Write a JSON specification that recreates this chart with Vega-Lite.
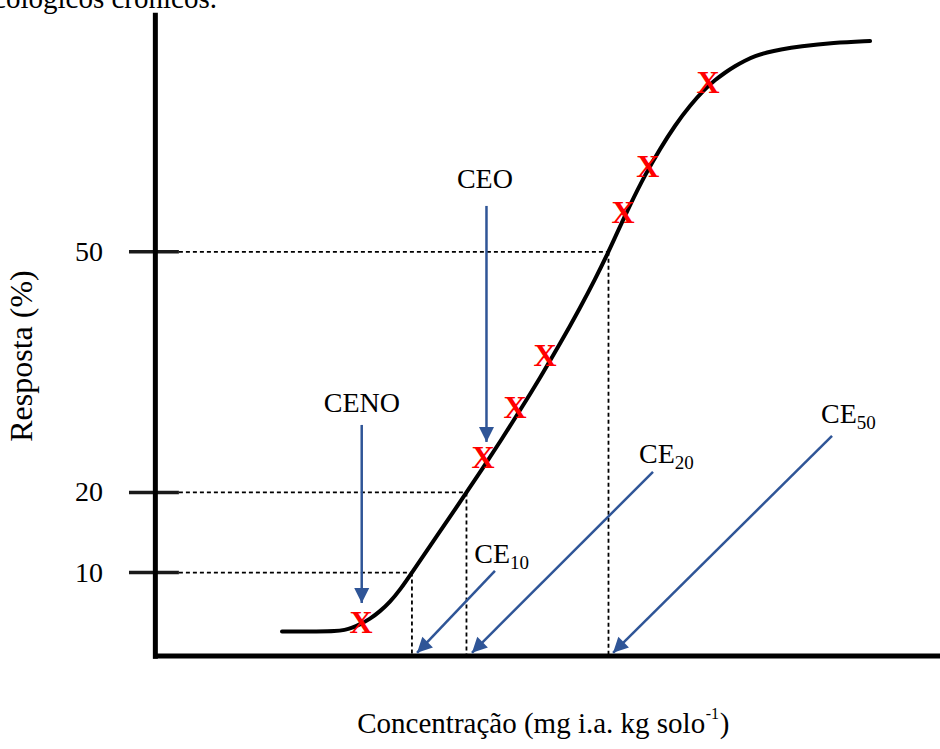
{
  "$schema": "https://vega.github.io/schema/vega-lite/v6.json",
  "width": 940,
  "height": 749,
  "autosize": {"type": "none"},
  "padding": 0,
  "background": "white",
  "config": {"view": {"stroke": null}, "text": {"font": "Liberation Serif", "color": "black"}},
  "datasets": {
    "curve": [
      {"c": 16.14, "r": 2.66}, {"c": 20.98, "r": 2.66}, {"c": 22.89, "r": 2.68}, {"c": 24.17, "r": 2.84},
      {"c": 25.06, "r": 3.09}, {"c": 26.07, "r": 3.53}, {"c": 27.35, "r": 4.21}, {"c": 28.62, "r": 5.15},
      {"c": 29.9, "r": 6.33}, {"c": 31.17, "r": 7.83}, {"c": 32.7, "r": 10.0}, {"c": 35.0, "r": 13.32},
      {"c": 37.55, "r": 16.93}, {"c": 39.65, "r": 20.0}, {"c": 41.76, "r": 23.05}, {"c": 43.92, "r": 26.29},
      {"c": 46.47, "r": 30.22}, {"c": 49.02, "r": 34.27}, {"c": 51.57, "r": 38.51}, {"c": 54.12, "r": 43.0},
      {"c": 56.03, "r": 46.55}, {"c": 57.75, "r": 50.0}, {"c": 58.58, "r": 51.79}, {"c": 60.49, "r": 55.84},
      {"c": 62.4, "r": 59.58}, {"c": 64.31, "r": 62.83}, {"c": 66.22, "r": 65.76}, {"c": 68.13, "r": 68.25},
      {"c": 70.05, "r": 70.31}, {"c": 71.32, "r": 71.41}, {"c": 72.6, "r": 72.35}, {"c": 73.87, "r": 73.16},
      {"c": 75.15, "r": 73.85}, {"c": 76.42, "r": 74.42}, {"c": 77.95, "r": 74.87}, {"c": 79.61, "r": 75.23},
      {"c": 82.16, "r": 75.63}, {"c": 86.37, "r": 76.07}, {"c": 91.09, "r": 76.29}
    ],
    "obs": [
      {"c": 26.2, "r": 3.72}, {"c": 41.76, "r": 24.29}, {"c": 45.84, "r": 30.53}, {"c": 49.66, "r": 37.01},
      {"c": 59.6, "r": 54.85}, {"c": 62.75, "r": 60.58}, {"c": 70.43, "r": 71.06}
    ],
    "ticks": [
      {"resp": 10, "at": -6.67}, {"resp": 20, "at": -6.67}, {"resp": 50, "at": -6.67}
    ],
    "frame": [
      {"kind": "axis", "x1": 0, "y1": -0.75, "x2": 0, "y2": 79.8},
      {"kind": "axis", "x1": -0.3, "y1": -0.4, "x2": 100, "y2": -0.4},
      {"kind": "tick", "x1": -3.36, "y1": 10, "x2": 3.0, "y2": 10},
      {"kind": "tick", "x1": -3.36, "y1": 20, "x2": 3.0, "y2": 20},
      {"kind": "tick", "x1": -3.36, "y1": 50, "x2": 3.0, "y2": 50},
      {"kind": "guide", "x1": 3.0, "y1": 10, "x2": 32.7, "y2": 10},
      {"kind": "guide", "x1": 32.7, "y1": 10, "x2": 32.7, "y2": -0.4},
      {"kind": "guide", "x1": 3.0, "y1": 20, "x2": 39.65, "y2": 20},
      {"kind": "guide", "x1": 39.65, "y1": 20, "x2": 39.65, "y2": -0.4},
      {"kind": "guide", "x1": 3.0, "y1": 50, "x2": 57.75, "y2": 50},
      {"kind": "guide", "x1": 57.75, "y1": 50, "x2": 57.75, "y2": -0.4}
    ],
    "arrows": [
      {"label": "CENO", "x0": 26.3, "y0": 28.41, "x1": 26.3, "y1": 6.21},
      {"label": "CEO", "x0": 42.2, "y0": 55.72, "x1": 42.2, "y1": 26.29},
      {"label": "CE10", "x0": 43.28, "y0": 10.2, "x1": 33.35, "y1": 0.0},
      {"label": "CE20", "x0": 63.42, "y0": 22.55, "x1": 40.35, "y1": 0.0},
      {"label": "CE50", "x0": 86.24, "y0": 27.04, "x1": 58.33, "y1": 0.0}
    ],
    "plainLabels": [
      {"text": "CENO", "c": 26.33, "r": 30.03},
      {"text": "CEO", "c": 42.0, "r": 57.96}
    ],
    "ceLabels": [
      {"sub": "10", "c": 45.2, "r": 11.2},
      {"sub": "20", "c": 66.2, "r": 23.67},
      {"sub": "50", "c": 89.4, "r": 28.66}
    ],
    "titles": [
      {"text": "Resposta (%)", "c": -15.73, "r": 37.0}
    ],
    "xtitle": [
      {"main": "Concentração (mg i.a. kg solo", "sup": "-1", "close": ")", "c": 70.07, "r": -10.0}
    ],
    "caption": [
      {"text": "ecotoxicológicos crônicos.", "c": 7.85, "r": 80.41}
    ]
  },
  "layer": [
    {
      "data": {"name": "frame"},
      "transform": [{"filter": "datum.kind == 'guide'"}],
      "mark": {"type": "rule", "color": "black", "strokeWidth": 1.8, "strokeDash": [4, 3]},
      "encoding": {
        "x": {"field": "x1", "type": "quantitative", "scale": {"domain": [-19.8, 100], "nice": false, "zero": false}, "axis": null},
        "y": {"field": "y1", "type": "quantitative", "scale": {"domain": [-12, 81.4], "nice": false, "zero": false}, "axis": null},
        "x2": {"field": "x2"},
        "y2": {"field": "y2"}
      }
    },
    {
      "data": {"name": "frame"},
      "transform": [{"filter": "datum.kind == 'tick'"}],
      "mark": {"type": "rule", "color": "#1a1a1a", "strokeWidth": 3.5},
      "encoding": {
        "x": {"field": "x1", "type": "quantitative", "scale": {"domain": [-19.8, 100], "nice": false, "zero": false}, "axis": null},
        "y": {"field": "y1", "type": "quantitative", "scale": {"domain": [-12, 81.4], "nice": false, "zero": false}, "axis": null},
        "x2": {"field": "x2"},
        "y2": {"field": "y2"}
      }
    },
    {
      "data": {"name": "frame"},
      "transform": [{"filter": "datum.kind == 'axis'"}],
      "mark": {"type": "rule", "color": "black", "strokeWidth": 5},
      "encoding": {
        "x": {"field": "x1", "type": "quantitative", "scale": {"domain": [-19.8, 100], "nice": false, "zero": false}, "axis": null},
        "y": {"field": "y1", "type": "quantitative", "scale": {"domain": [-12, 81.4], "nice": false, "zero": false}, "axis": null},
        "x2": {"field": "x2"},
        "y2": {"field": "y2"}
      }
    },
    {
      "data": {"name": "ticks"},
      "mark": {"type": "text", "fontSize": 28, "align": "right", "baseline": "middle", "dy": 1},
      "encoding": {
        "x": {"field": "at", "type": "quantitative", "scale": {"domain": [-19.8, 100], "nice": false, "zero": false}, "axis": null},
        "y": {"field": "resp", "type": "quantitative", "scale": {"domain": [-12, 81.4], "nice": false, "zero": false}, "axis": null},
        "text": {"field": "resp", "type": "quantitative"}
      }
    },
    {
      "data": {"name": "curve"},
      "mark": {"type": "line", "color": "black", "strokeWidth": 4, "strokeCap": "round", "interpolate": "basis"},
      "encoding": {
        "x": {"field": "c", "type": "quantitative", "scale": {"domain": [-19.8, 100], "nice": false, "zero": false}, "axis": null},
        "y": {"field": "r", "type": "quantitative", "scale": {"domain": [-12, 81.4], "nice": false, "zero": false}, "axis": null}
      }
    },
    {
      "data": {"name": "obs"},
      "mark": {"type": "text", "text": "X", "fontSize": 32, "fontWeight": "bold", "color": "#ff0000", "align": "center", "baseline": "middle"},
      "encoding": {
        "x": {"field": "c", "type": "quantitative", "scale": {"domain": [-19.8, 100], "nice": false, "zero": false}, "axis": null},
        "y": {"field": "r", "type": "quantitative", "scale": {"domain": [-12, 81.4], "nice": false, "zero": false}, "axis": null}
      }
    },
    {
      "data": {"name": "arrows"},
      "mark": {"type": "rule", "color": "#2f5597", "strokeWidth": 2.5},
      "encoding": {
        "x": {"field": "x0", "type": "quantitative", "scale": {"domain": [-19.8, 100], "nice": false, "zero": false}, "axis": null},
        "y": {"field": "y0", "type": "quantitative", "scale": {"domain": [-12, 81.4], "nice": false, "zero": false}, "axis": null},
        "x2": {"field": "x1"},
        "y2": {"field": "y1"}
      }
    },
    {
      "data": {"name": "arrows"},
      "transform": [{"filter": "datum.x0 == datum.x1"}],
      "mark": {"type": "point", "shape": "M0,0L-0.5,1L0.5,1Z", "size": 900, "filled": true, "opacity": 1, "color": "#2f5597", "angle": 180},
      "encoding": {
        "x": {"field": "x1", "type": "quantitative", "scale": {"domain": [-19.8, 100], "nice": false, "zero": false}, "axis": null},
        "y": {"field": "y1", "type": "quantitative", "scale": {"domain": [-12, 81.4], "nice": false, "zero": false}, "axis": null}
      }
    },
    {
      "data": {"name": "arrows"},
      "transform": [{"filter": "datum.x0 != datum.x1"}],
      "mark": {"type": "point", "shape": "M0,0L-0.5,1L0.5,1Z", "size": 900, "filled": true, "opacity": 1, "color": "#2f5597", "angle": 225},
      "encoding": {
        "x": {"field": "x1", "type": "quantitative", "scale": {"domain": [-19.8, 100], "nice": false, "zero": false}, "axis": null},
        "y": {"field": "y1", "type": "quantitative", "scale": {"domain": [-12, 81.4], "nice": false, "zero": false}, "axis": null}
      }
    },
    {
      "data": {"name": "plainLabels"},
      "mark": {"type": "text", "fontSize": 28, "align": "center", "baseline": "alphabetic"},
      "encoding": {
        "x": {"field": "c", "type": "quantitative", "scale": {"domain": [-19.8, 100], "nice": false, "zero": false}, "axis": null},
        "y": {"field": "r", "type": "quantitative", "scale": {"domain": [-12, 81.4], "nice": false, "zero": false}, "axis": null},
        "text": {"field": "text"}
      }
    },
    {
      "data": {"name": "ceLabels"},
      "mark": {"type": "text", "text": "CE", "fontSize": 28, "align": "right", "baseline": "alphabetic"},
      "encoding": {
        "x": {"field": "c", "type": "quantitative", "scale": {"domain": [-19.8, 100], "nice": false, "zero": false}, "axis": null},
        "y": {"field": "r", "type": "quantitative", "scale": {"domain": [-12, 81.4], "nice": false, "zero": false}, "axis": null}
      }
    },
    {
      "data": {"name": "ceLabels"},
      "mark": {"type": "text", "fontSize": 19, "align": "left", "baseline": "alphabetic", "dy": 6},
      "encoding": {
        "x": {"field": "c", "type": "quantitative", "scale": {"domain": [-19.8, 100], "nice": false, "zero": false}, "axis": null},
        "y": {"field": "r", "type": "quantitative", "scale": {"domain": [-12, 81.4], "nice": false, "zero": false}, "axis": null},
        "text": {"field": "sub"}
      }
    },
    {
      "data": {"name": "titles"},
      "mark": {"type": "text", "fontSize": 32, "angle": 270, "align": "center", "baseline": "alphabetic"},
      "encoding": {
        "x": {"field": "c", "type": "quantitative", "scale": {"domain": [-19.8, 100], "nice": false, "zero": false}, "axis": null},
        "y": {"field": "r", "type": "quantitative", "scale": {"domain": [-12, 81.4], "nice": false, "zero": false}, "axis": null},
        "text": {"field": "text"}
      }
    },
    {
      "data": {"name": "xtitle"},
      "mark": {"type": "text", "fontSize": 29, "align": "right", "baseline": "alphabetic"},
      "encoding": {
        "x": {"field": "c", "type": "quantitative", "scale": {"domain": [-19.8, 100], "nice": false, "zero": false}, "axis": null},
        "y": {"field": "r", "type": "quantitative", "scale": {"domain": [-12, 81.4], "nice": false, "zero": false}, "axis": null},
        "text": {"field": "main"}
      }
    },
    {
      "data": {"name": "xtitle"},
      "mark": {"type": "text", "fontSize": 16, "align": "left", "baseline": "alphabetic", "dy": -14, "dx": 0.5},
      "encoding": {
        "x": {"field": "c", "type": "quantitative", "scale": {"domain": [-19.8, 100], "nice": false, "zero": false}, "axis": null},
        "y": {"field": "r", "type": "quantitative", "scale": {"domain": [-12, 81.4], "nice": false, "zero": false}, "axis": null},
        "text": {"field": "sup"}
      }
    },
    {
      "data": {"name": "xtitle"},
      "mark": {"type": "text", "fontSize": 29, "align": "left", "baseline": "alphabetic", "dx": 14.5},
      "encoding": {
        "x": {"field": "c", "type": "quantitative", "scale": {"domain": [-19.8, 100], "nice": false, "zero": false}, "axis": null},
        "y": {"field": "r", "type": "quantitative", "scale": {"domain": [-12, 81.4], "nice": false, "zero": false}, "axis": null},
        "text": {"field": "close"}
      }
    },
    {
      "data": {"name": "caption"},
      "mark": {"type": "text", "fontSize": 29, "align": "right", "baseline": "alphabetic", "clip": true},
      "encoding": {
        "x": {"field": "c", "type": "quantitative", "scale": {"domain": [-19.8, 100], "nice": false, "zero": false}, "axis": null},
        "y": {"field": "r", "type": "quantitative", "scale": {"domain": [-12, 81.4], "nice": false, "zero": false}, "axis": null},
        "text": {"field": "text"}
      }
    }
  ]
}
